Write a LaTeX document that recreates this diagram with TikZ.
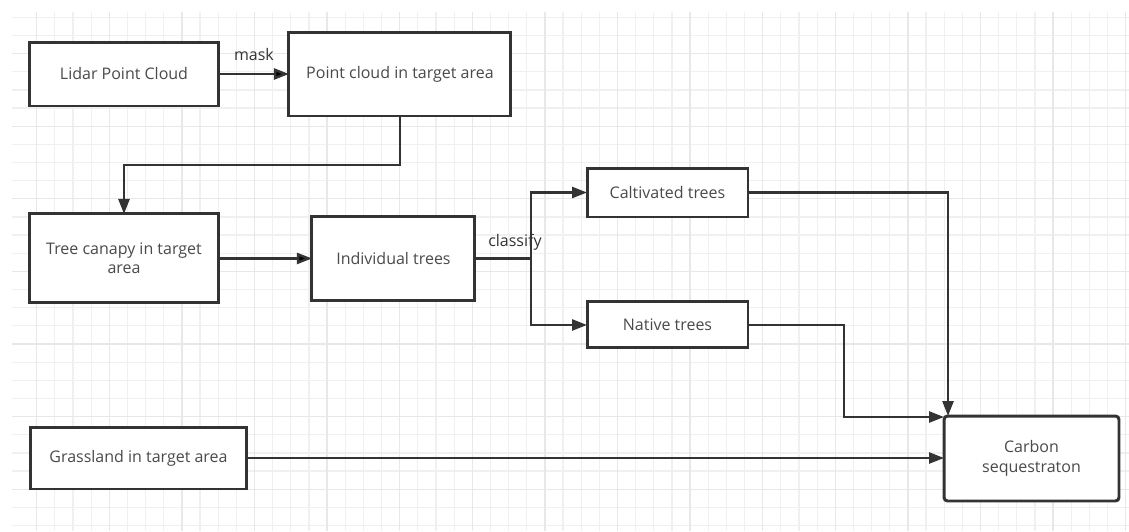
\documentclass[tikz,border=0pt]{standalone}
\usepackage{fontspec}
\setmainfont{Open Sans}
\usepackage{tikz}
\usetikzlibrary{positioning}
\usetikzlibrary{arrows.meta}
\definecolor{linegray}{HTML}{333333}
\definecolor{textgray}{HTML}{4A4A4A}
\definecolor{gridminor}{HTML}{F0F0F0}
\definecolor{gridmajor}{HTML}{E8E8E8}

\begin{document}
\begin{tikzpicture}[%
	x=0.02cm, y=-0.02cm,
	base/.style={draw=linegray, line width=1.7pt, align=center, outer sep=0pt,
		inner sep=2pt, text=textgray, fill=white,
		font=\fontsize{9.1}{11}\selectfont},
	rect/.style={base},
	rounded/.style={base, rounded corners=2pt},%
	conn/.style={draw=linegray, line width=1.4pt},%
	arrow/.style={conn, arrows={-{Triangle[length=0.3cm, width=0.22cm]}}},%
	lbl/.style={text=linegray, inner sep=0pt, font=\fontsize{9.1}{11}\selectfont}%
	]
	\useasboundingbox (0,0) rectangle (1129,531);
	%
	% Grid
	%
	\foreach \i in {0,...,60}
		\draw[gridminor, line width=0.7pt] ({36.7+18.15*\i},12) -- ({36.7+18.15*\i},531);
	\foreach \j in {0,...,28}
		\draw[gridminor, line width=0.7pt] (12,{17.3+18.15*\j}) -- (1129,{17.3+18.15*\j});
	\foreach \i in {0,4,...,60}
		\draw[gridmajor, line width=0.7pt] ({36.7+18.15*\i},12) -- ({36.7+18.15*\i},531);
	\foreach \j in {2,6,...,26}
		\draw[gridmajor, line width=0.7pt] (12,{17.3+18.15*\j}) -- (1129,{17.3+18.15*\j});
	%
	% Nodes
	%
	\node[rect, minimum width=3.8cm, minimum height=1.28cm] (lidar) at (124, 74) {Lidar Point Cloud};
	\node[rect, minimum width=4.44cm, minimum height=1.68cm, right=1.4cm of lidar] (pcloud) {Point cloud in target area};
	\node[rect, minimum width=3.8cm, minimum height=1.78cm, below=2.16cm of lidar] (canopy) {Tree canapy in target\\ area};
	\node[rect, minimum width=3.26cm, minimum height=1.68cm, right=1.86cm of canopy] (indiv) {Individual trees};
	\node[rect, minimum width=3.22cm, minimum height=0.98cm] (cult) at (667.5, 192.5) {Caltivated trees};
	\node[rect, minimum width=3.22cm, minimum height=0.92cm, below=1.7cm of cult] (native) {Native trees};
	\node[rect, minimum width=4.34cm, minimum height=1.24cm] (grass) at (138.5, 458) {Grassland in target area};
	\node[rounded, minimum width=3.5cm, minimum height=1.7cm] (carbon) at (1031.5, 458.5) {Carbon\\ sequestraton};
	\coordinate (split) at ([xshift=1.12cm]indiv.east);
	%
	% Connectors
	%
	\path[arrow] (lidar) edge node[lbl, midway, above=0.24cm] {mask} (pcloud);
	\draw[arrow] (pcloud.south) -- ++(0, 49) -| (canopy.north);
	\path[arrow] (canopy) edge (indiv);
	\draw[conn] (indiv.east) -- (split);
	\draw[arrow] (split) |- (cult.west);
	\draw[arrow] (split) |- (native.west);
	\node[lbl, anchor=base west] (classify) at ([xshift=0.26cm, yshift=0.24cm]indiv.east) {classify};
	\draw[arrow] (cult.east) -| ([xshift=0.08cm]carbon.north west);
	\draw[arrow] (native.east) -- ++(96, 0) |- ([yshift=-0.02cm]carbon.north west);
	\draw[arrow] (grass.east) -- (grass.east -| carbon.west);
\end{tikzpicture}
\end{document}
